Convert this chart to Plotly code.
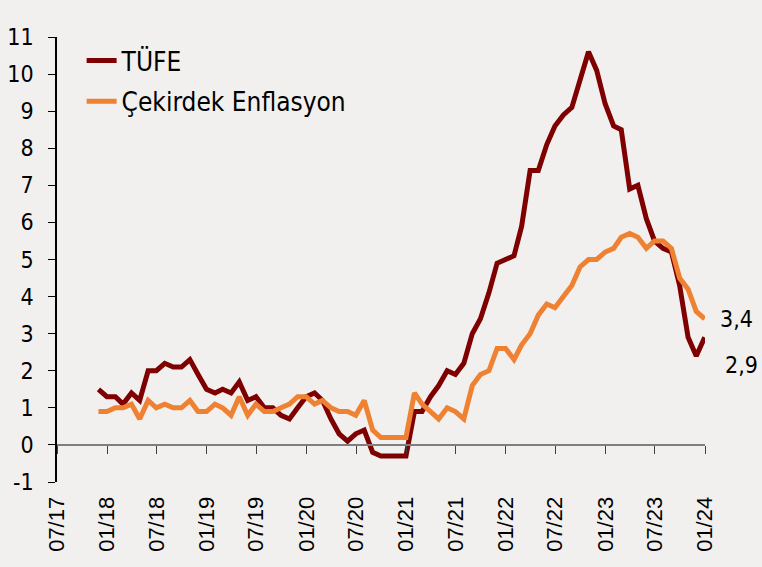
import pandas as pd
import plotly.graph_objects as go

# Monthly data, Nov 2017 - Dec 2023 (plotted at month end)
months = pd.date_range(start="2017-11-01", periods=74, freq="MS") + pd.offsets.MonthEnd(0)

tufe = [
    1.5, 1.3,
    1.3, 1.1, 1.4, 1.2, 2.0, 2.0, 2.2, 2.1, 2.1, 2.3, 1.9, 1.5,
    1.4, 1.5, 1.4, 1.7, 1.2, 1.3, 1.0, 1.0, 0.8, 0.7, 1.0, 1.3,
    1.4, 1.2, 0.7, 0.3, 0.1, 0.3, 0.4, -0.2, -0.3, -0.3, -0.3, -0.3,
    0.9, 0.9, 1.3, 1.6, 2.0, 1.9, 2.2, 3.0, 3.4, 4.1, 4.9, 5.0,
    5.1, 5.9, 7.4, 7.4, 8.1, 8.6, 8.9, 9.1, 9.9, 10.6, 10.1, 9.2,
    8.6, 8.5, 6.9, 7.0, 6.1, 5.5, 5.3, 5.2, 4.3, 2.9, 2.4, 2.9,
]

cekirdek = [
    0.9, 0.9,
    1.0, 1.0, 1.1, 0.7, 1.2, 1.0, 1.1, 1.0, 1.0, 1.2, 0.9, 0.9,
    1.1, 1.0, 0.8, 1.3, 0.8, 1.1, 0.9, 0.9, 1.0, 1.1, 1.3, 1.3,
    1.1, 1.2, 1.0, 0.9, 0.9, 0.8, 1.2, 0.4, 0.2, 0.2, 0.2, 0.2,
    1.4, 1.1, 0.9, 0.7, 1.0, 0.9, 0.7, 1.6, 1.9, 2.0, 2.6, 2.6,
    2.3, 2.7, 3.0, 3.5, 3.8, 3.7, 4.0, 4.3, 4.8, 5.0, 5.0, 5.2,
    5.3, 5.6, 5.7, 5.6, 5.3, 5.5, 5.5, 5.3, 4.5, 4.2, 3.6, 3.4,
]

series_names = ["TÜFE", "Çekirdek Enflasyon"]
series_colors = ["#7F0000", "#EE8132"]

tick_dates = pd.date_range(start="2017-07-01", end="2024-01-01", freq="6MS")
tick_labels = ["07/17", "01/18", "07/18", "01/19", "07/19", "01/20", "07/20",
               "01/21", "07/21", "01/22", "07/22", "01/23", "07/23", "01/24"]

y_min, y_max = -1, 11
y_ticks = list(range(-1, 12))
y_tick_text = [str(v) for v in y_ticks]

FONT = "DejaVu Sans Condensed, DejaVu Sans, sans-serif"
BG = "#F2F0EE"

fig = go.Figure()
# TÜFE on the base x axis (which sits at y = 0), core on the overlay axis (labels at bottom)
fig.add_trace(go.Scatter(
    x=months, y=tufe, mode="lines", name=series_names[0], legendgroup="a",
    line=dict(color=series_colors[0], width=5, shape="linear"),
    xaxis="x", yaxis="y",
))
fig.add_trace(go.Scatter(
    x=months, y=cekirdek, mode="lines", name=series_names[1], legendgroup="b",
    line=dict(color=series_colors[1], width=5, shape="linear"),
    xaxis="x2", yaxis="y",
))

# end-value labels
fig.add_annotation(
    x=months[-1], y=cekirdek[-1], xref="x2", yref="y",
    text=f"{cekirdek[-1]:.1f}".replace(".", ","),
    showarrow=False, xanchor="left", yanchor="middle", xshift=13, yshift=0,
    font=dict(family=FONT, size=23, color="#000000"),
)
fig.add_annotation(
    x=months[-1], y=tufe[-1], xref="x", yref="y",
    text=f"{tufe[-1]:.1f}".replace(".", ","),
    showarrow=False, xanchor="left", yanchor="middle", xshift=18, yshift=-28,
    font=dict(family=FONT, size=23, color="#000000"),
)

x_range = [tick_dates[0], tick_dates[-1]]

fig.update_layout(
    width=762, height=567,
    paper_bgcolor=BG, plot_bgcolor=BG,
    margin=dict(l=57, r=57, t=37, b=85, autoexpand=False),
    showlegend=True,
    legend=dict(
        x=0.038, y=1.0, xanchor="left", yanchor="top",
        bgcolor="rgba(0,0,0,0)",
        font=dict(family=FONT, size=26, color="#000000"),
        tracegroupgap=4,
    ),
    xaxis=dict(
        type="date", range=x_range, automargin=False,
        anchor="free", position=(0 - y_min) / (y_max - y_min),
        showline=True, linecolor="#7F7F7F", linewidth=1.5,
        ticks="outside", ticklen=8, tickwidth=1.3, tickcolor="#404040",
        tickvals=tick_dates, showticklabels=False,
        showgrid=False, zeroline=False,
    ),
    xaxis2=dict(
        type="date", range=x_range, overlaying="x", matches="x", anchor="y", side="bottom",
        automargin=False,
        tickvals=tick_dates, ticktext=tick_labels, tickangle=-90,
        tickfont=dict(family="Liberation Sans, Arial, sans-serif", size=22, color="#000000"),
        ticks="outside", ticklen=5, tickcolor="rgba(0,0,0,0)",
        showline=False, showgrid=False, zeroline=False,
    ),
    yaxis=dict(
        range=[y_min, y_max], tickvals=y_ticks, ticktext=y_tick_text, automargin=False,
        showline=True, linecolor="#000000", linewidth=1.5,
        ticks="outside", ticklen=7, tickwidth=1.3, tickcolor="#000000",
        tickfont=dict(family=FONT, size=23, color="#000000"),
        ticklabelstandoff=10,
        showgrid=False, zeroline=False,
    ),
)

fig.write_html(
    "out.html",
    config={"displayModeBar": False},
    post_script="document.body.style.margin='0';document.body.style.background='%s';" % BG,
)
